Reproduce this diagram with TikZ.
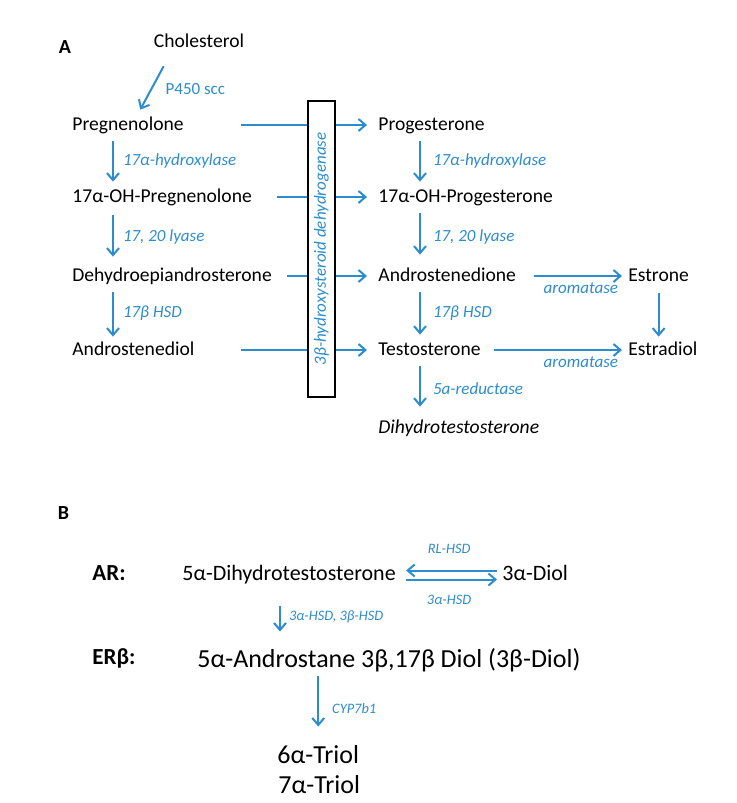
\documentclass[tikz,border=0pt]{standalone}
\usepackage{fontspec}
\setmainfont{Carlito}
\usetikzlibrary{arrows.meta,calc}
\definecolor{enzblue}{RGB}{45,140,205}

\begin{document}
\begin{tikzpicture}[x=0.5pt,y=-0.5pt,
    chem/.style={anchor=west,inner sep=0pt,text height=7pt,text depth=2pt,font=\fontsize{9.8}{11}\selectfont},
    chemB/.style={anchor=west,inner sep=0pt,text height=8pt,text depth=2.2pt,font=\fontsize{11}{13}\selectfont},
    chemC/.style={anchor=west,inner sep=0pt,text height=9.5pt,text depth=2.6pt,font=\fontsize{13}{15}\selectfont},
    enz/.style={anchor=west,inner sep=0pt,text=enzblue,font=\fontsize{8.5}{10}\selectfont\itshape},
    enzB/.style={inner sep=0pt,text=enzblue,font=\fontsize{7.2}{9}\selectfont\itshape},
    flow/.style={draw=enzblue,line width=1pt,-{Straight Barb[length=3.5pt,width=6pt]},shorten <=3.5pt,shorten >=3pt},
    panel/.style={inner sep=0pt,font=\fontsize{10}{12}\selectfont\bfseries}]

\useasboundingbox (0,0) rectangle (736,803);

% panel A
\node[panel] (labA) at (65,47) {A};
\node[chem,anchor=center] (chol) at (199,42) {Cholesterol};

\node[chem] (preg)   at ( 72,125) {Pregnenolone};
\node[chem] (ohpreg) at ( 72,197) {17α-OH-Pregnenolone};
\node[chem] (dhea)   at ( 72,276) {Dehydroepiandrosterone};
\node[chem] (adiol)  at ( 72,350) {Androstenediol};

\node[chem] (prog)   at (378,125) {Progesterone};
\node[chem] (ohprog) at (378,197) {17α-OH-Progesterone};
\node[chem] (adione) at (378,276) {Androstenedione};
\node[chem] (testo)  at (378,350) {Testosterone};
\node[chem,font=\fontsize{9.8}{11}\selectfont\itshape] (dht) at (378,428) {Dihydrotestosterone};

\node[chem] (estrone)   at (628,276) {Estrone};
\node[chem] (estradiol) at (628,350) {Estradiol};

\coordinate (colL) at (113,0);
\coordinate (colR) at (420,0);

\draw[flow,shorten <=8.4pt,shorten >=3.4pt]
    ($(chol.south west)!.2!(chol.south east)$) -- ($(preg.north west)!.58!(preg.north east)$)
    node[enz,font=\fontsize{8.5}{10}\selectfont,pos=.55,xshift=6pt,yshift=-1pt] {P450 scc};

\draw[flow] (preg.south -| colL)   -- (ohpreg.north -| colL) node[enz,midway,xshift=4.5pt] {17α-hydroxylase};
\draw[flow,shorten <=4.5pt,shorten >=5pt] (ohpreg.south -| colL) -- (dhea.north -| colL) node[enz,midway,xshift=4.5pt] {17, 20 lyase};
\draw[flow,shorten >=2pt] (dhea.south -| colL)   -- (adiol.north -| colL)  node[enz,midway,xshift=4.5pt] {17\textit{β} HSD};

\draw[flow] (prog.south -| colR)   -- (ohprog.north -| colR) node[enz,midway,xshift=6pt] {17α-hydroxylase};
\draw[flow,shorten >=6pt] (ohprog.south -| colR) -- (adione.north -| colR) node[enz,midway,xshift=6pt] {17, 20 lyase};
\draw[flow] (adione.south -| colR) -- (testo.north -| colR)  node[enz,midway,xshift=6pt] {17\textit{β} HSD};
\draw[flow,shorten >=6pt] (testo.south -| colR)  -- (dht.north -| colR)    node[enz,midway,xshift=6pt] {5a-reductase};

% through the 3beta-HSD box
\draw[flow,shorten <=28.5pt,shorten >=5.5pt] (preg.east)   -- (prog.west);
\draw[flow,shorten <=12.5pt,shorten >=5.5pt] (ohpreg.east) -- (ohprog.west);
\draw[flow,shorten <=7.5pt, shorten >=5.5pt] (dhea.east)   -- (adione.west);
\draw[flow,shorten <=23pt,  shorten >=5.5pt] (adiol.east)  -- (testo.west);

\node[draw,fill=white,line width=.6pt,rotate=90,inner sep=0pt,minimum width=148pt,minimum height=13.5pt,
      text=enzblue,font=\fontsize{8.5}{10}\selectfont\itshape] (hsd) at (321.5,249) {3β-hydroxysteroid dehydrogenase};

\draw[flow,shorten <=9pt,shorten >=3pt] (adione.east) -- (estrone.west)
    node[enz,anchor=north east,pos=1,xshift=-4.5pt,yshift=-3pt] {aromatase};
\draw[flow,shorten <=6.5pt,shorten >=3pt] (testo.east) -- (estradiol.west)
    node[enz,anchor=north east,pos=1,xshift=-4.5pt,yshift=-3pt] {aromatase};
\draw[flow,shorten <=4pt,shorten >=2pt] (estrone.south) -- (estrone.south |- estradiol.north);

% panel B
\node[panel] (labB) at (63.5,513) {B};
\node[chemB,font=\fontsize{11.5}{13}\selectfont\bfseries] (ar) at (92,575) {AR:};
\node[chemB,font=\fontsize{11.5}{13}\selectfont\bfseries] (er) at (92,659) {ERβ:};

\node[chemB] (dht5)   at (182,575) {5α-Dihydrotestosterone};
\node[chemB] (diol)   at (502,575) {3α-Diol};
\node[chemC] (adiolb) at (197,661) {5α-Androstane 3β,17β Diol (3β-Diol)};
\node[chemC] (triol6) at (277,757) {6α-Triol};
\node[chemC] (triol7) at (278,787) {7α-Triol};

\coordinate (colB) at (280,0);

\draw[flow,shorten <=2.5pt,shorten >=5pt] ([yshift=2.25pt]diol.west) -- ([yshift=2.25pt]dht5.east)
    node[enzB,midway,above=8pt] {RL-HSD};
\draw[flow,shorten <=5pt,shorten >=2.5pt] ([yshift=-2.25pt]dht5.east) -- ([yshift=-2.25pt]diol.west)
    node[enzB,midway,below=7.5pt] {3α-HSD};

\draw[flow,shorten <=10pt,shorten >=8.5pt] (dht5.south -| colB) -- (adiolb.north -| colB)
    node[enzB,anchor=west,midway,xshift=4pt] {3α-HSD, 3β-HSD};
\draw[flow,shorten <=1pt,shorten >=9pt] (adiolb.south -| triol6.north) -- (triol6.north)
    node[enzB,anchor=west,midway,xshift=6.5pt] {CYP7b1};
\end{tikzpicture}
\end{document}
